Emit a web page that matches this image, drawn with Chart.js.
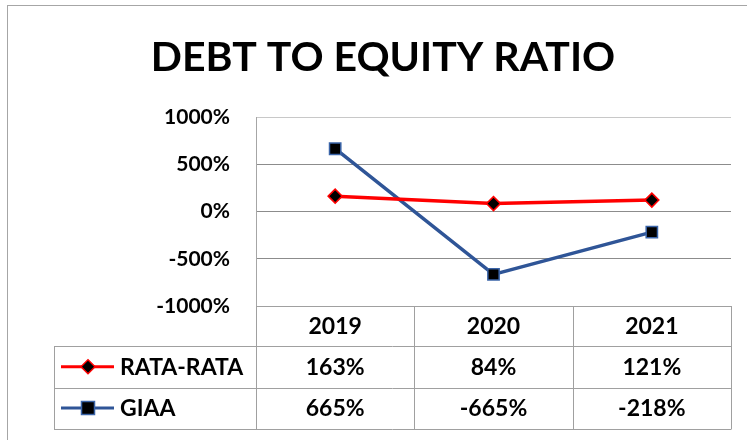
<!DOCTYPE html>
<html>
<head>
<meta charset="utf-8">
<script src="https://cdn.jsdelivr.net/npm/chart.js@4.4.1/dist/chart.umd.min.js"></script>
<style>
    html, body { margin: 0; padding: 0; background: #fff; }
</style>
</head>
<body>
<canvas id="ratio" width="747" height="440"></canvas>
<script>
const years = ['2019', '2020', '2021'];
const rataRata = [163, 84, 121];
const giaa = [665, -665, -218];
const seriesNames = ['RATA-RATA', 'GIAA'];
const yTicks = [-1000, -500, 0, 500, 1000];

const FONT = "Lato, 'Liberation Sans', sans-serif";
const RED = '#ff0000';
const BLUE = '#2f5597';

const frame = {
    id: 'frame',
    beforeDraw(chart) {
        const ctx = chart.ctx;
        ctx.save();
        ctx.fillStyle = '#fff';
        ctx.fillRect(0, 0, chart.width, chart.height);
        ctx.strokeStyle = '#a6a6a6';
        ctx.lineWidth = 1;
        ctx.strokeRect(7.5, 5.5, chart.width + 20, chart.height + 20);
        ctx.restore();
    }
};

const dataTable = {
    id: 'dataTable',
    afterDraw(chart) {
        const ctx = chart.ctx;
        const area = chart.chartArea;
        const x = chart.scales.x;
        const step = x.getPixelForValue(1) - x.getPixelForValue(0);
        const rowTops = [0, 40, 81.5, 122.5];
        const top = area.bottom;
        const legendLeft = 54;
        const rows = [rataRata, giaa];
        const mid = r => top + (rowTops[r] + rowTops[r + 1]) / 2;

        ctx.save();
        ctx.strokeStyle = '#a0a0a0';
        ctx.lineWidth = 1;
        ctx.beginPath();
        // horizontal lines
        ctx.moveTo(area.left, top + 0.5);
        ctx.lineTo(area.right, top + 0.5);
        for (let r = 1; r <= 3; r++) {
            const y = Math.round(top + rowTops[r]) + 0.5;
            ctx.moveTo(legendLeft, y);
            ctx.lineTo(area.right, y);
        }
        // vertical lines
        const bottom = Math.round(top + rowTops[3]) + 0.5;
        for (let i = 0; i <= years.length; i++) {
            const xp = Math.round(x.getPixelForValue(0) - step / 2 + i * step) + 0.5;
            ctx.moveTo(xp, top);
            ctx.lineTo(xp, bottom);
        }
        ctx.moveTo(legendLeft + 0.5, Math.round(top + rowTops[1]));
        ctx.lineTo(legendLeft + 0.5, bottom);
        ctx.stroke();

        ctx.fillStyle = '#000';
        ctx.font = 'bold 23px ' + FONT;
        ctx.textAlign = 'center';
        ctx.textBaseline = 'middle';
        years.forEach((yr, i) => {
            ctx.fillText(yr, x.getPixelForValue(i), mid(0) + 1);
        });
        rows.forEach((vals, r) => {
            vals.forEach((v, i) => {
                ctx.fillText(v + '%', x.getPixelForValue(i), mid(r + 1) + 1);
            });
        });

        // legend keys
        chart.data.datasets.forEach((ds, r) => {
            const cy = mid(r + 1);
            ctx.strokeStyle = ds.borderColor;
            ctx.lineWidth = 3;
            ctx.beginPath();
            ctx.moveTo(61, cy);
            ctx.lineTo(114, cy);
            ctx.stroke();
            ctx.fillStyle = '#000';
            ctx.strokeStyle = ds.pointBorderColor;
            ctx.lineWidth = 1.5;
            ctx.beginPath();
            if (ds.pointStyle === 'rectRot') {
                ctx.moveTo(88, cy - 7);
                ctx.lineTo(95, cy);
                ctx.lineTo(88, cy + 7);
                ctx.lineTo(81, cy);
                ctx.closePath();
            } else {
                ctx.rect(81.5, cy - 6.5, 13, 13);
            }
            ctx.fill();
            ctx.stroke();
            ctx.fillStyle = '#000';
            ctx.textAlign = 'left';
            ctx.fillText(ds.label, 120, cy + 1);
        });
        ctx.restore();
    }
};

new Chart(document.getElementById('ratio'), {
    type: 'line',
    data: {
        labels: years,
        datasets: [
            {
                label: seriesNames[0],
                data: rataRata,
                borderColor: RED,
                borderWidth: 3.5,
                pointStyle: 'rectRot',
                pointRadius: 7,
                pointBackgroundColor: '#000',
                pointBorderColor: RED,
                pointBorderWidth: 1.5,
                tension: 0
            },
            {
                label: seriesNames[1],
                data: giaa,
                borderColor: BLUE,
                borderWidth: 3.5,
                pointStyle: 'rect',
                pointRadius: 8,
                pointBackgroundColor: '#000',
                pointBorderColor: '#3a64a8',
                pointBorderWidth: 1.5,
                tension: 0
            }
        ]
    },
    options: {
        responsive: false,
        maintainAspectRatio: false,
        animation: false,
        devicePixelRatio: 1,
        layout: {
            padding: { left: 35, right: 16, top: 0, bottom: 134 }
        },
        plugins: {
            legend: { display: false },
            tooltip: { enabled: false },
            title: {
                display: true,
                text: 'DEBT TO EQUITY RATIO',
                color: '#000',
                font: { family: FONT, size: 41, weight: 'bold', lineHeight: 1.1 },
                padding: { top: 35, bottom: 37 }
            }
        },
        scales: {
            x: {
                display: false,
                offset: true
            },
            y: {
                min: yTicks[0],
                max: yTicks[yTicks.length - 1],
                afterFit(scale) { scale.width = 221; },
                afterBuildTicks(scale) { scale.ticks = yTicks.map(v => ({ value: v })); },
                grid: {
                    drawTicks: false,
                    color: ctx => ctx.tick && ctx.tick.value === 1000 ? '#c8c8c8' : '#8c8c8c'
                },
                border: { color: '#a6a6a6' },
                ticks: {
                    padding: 26,
                    color: '#000',
                    font: { family: FONT, size: 21, weight: 'bold' },
                    callback: v => v + '%'
                }
            }
        }
    },
    plugins: [frame, dataTable]
});
</script>
</body>
</html>
